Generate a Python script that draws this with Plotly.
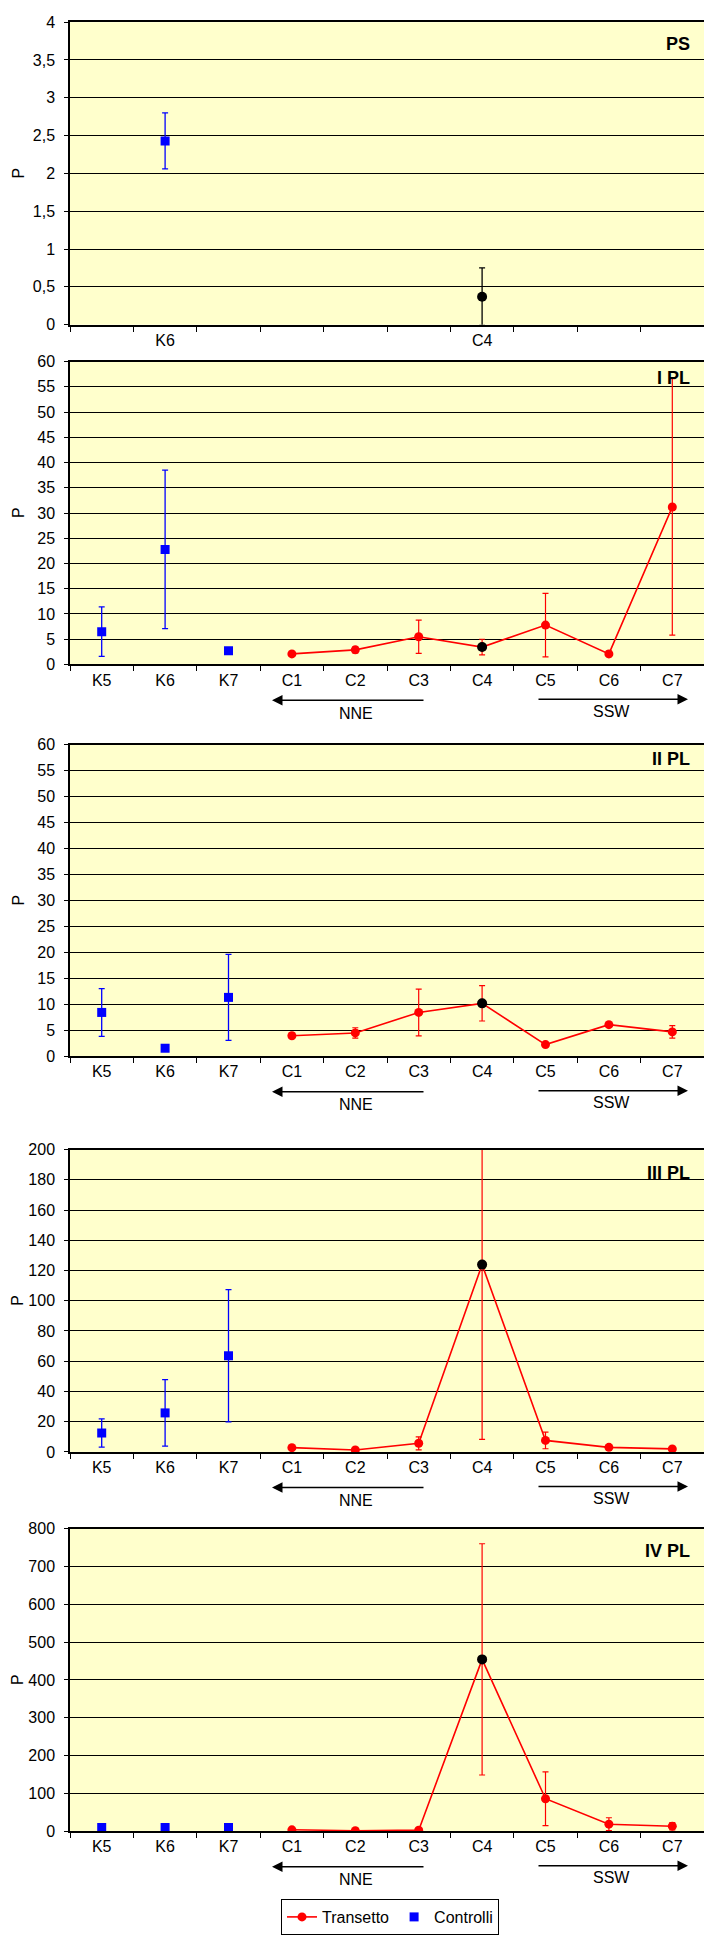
import plotly.graph_objects as go

# ---------------- data ----------------
categories = ["K5", "K6", "K7", "C1", "C2", "C3", "C4", "C5", "C6", "C7"]
controls = ["K5", "K6", "K7"]
transect = ["C1", "C2", "C3", "C4", "C5", "C6", "C7"]
panel_titles = ["PS", "I PL", "II PL", "III PL", "IV PL"]

# PS panel (only K6 and C4)
ps_labels = ["", "K6", "", "", "", "", "C4", "", "", ""]
ps_ctrl_x = ["K6"]
ps_ctrl_y = [2.43]
ps_ctrl_err = [0.37]
ps_c4_y = [0.37]
ps_c4_err = [0.38]

# I PL
ipl_ctrl_y = [6.5, 22.8, 2.7]
ipl_ctrl_err = [4.9, 15.7, 0.0]
ipl_tr_y = [2.1, 2.9, 5.5, 3.45, 7.8, 2.1, 31.2]
ipl_tr_err = [0.3, 0.6, 3.3, 1.55, 6.3, 0.55, 25.4]

# II PL
iipl_ctrl_y = [8.4, 1.5, 11.3]
iipl_ctrl_err = [4.6, 0.0, 8.3]
iipl_tr_y = [3.9, 4.45, 8.4, 10.15, 2.2, 6.05, 4.65]
iipl_tr_err = [0.5, 1.0, 4.5, 3.4, 0.3, 0.4, 1.2]

# III PL
iiipl_ctrl_y = [12.5, 25.8, 63.6]
iiipl_ctrl_err = [9.3, 22.0, 43.7]
iiipl_tr_y = [2.8, 1.3, 5.7, 123.9, 7.6, 3.0, 2.0]
iiipl_tr_err = [0.5, 0.3, 4.3, 115.6, 5.5, 0.5, 0.5]

# IV PL
ivpl_ctrl_y = [9.6, 9.6, 9.6]
ivpl_ctrl_err = [0.0, 0.0, 0.0]
ivpl_tr_y = [3.5, 1.0, 2.6, 454.5, 85.7, 18.4, 13.1]
ivpl_tr_err = [1.0, 0.5, 1.0, 306.0, 71.0, 17.0, 9.6]

y_max = [4, 60, 60, 200, 800]
y_step = [0.5, 5, 5, 20, 100]

# ---------------- layout geometry ----------------
W, H = 704, 1935
tops = [14.3, 356.7, 743.3, 1151.7, 1534.3]
bottoms = [319.5, 662.3, 1057.3, 1456.7, 1839.3]
title_y = [36, 373, 758, 1175, 1557]
x_left = 70


def py(v):
    return 1 - v / H


def px(v):
    return v / W


FONT = "Liberation Sans, Arial, sans-serif"
FS = 16
RED = "#FF0000"
BLUE = "#0000FF"

fig = go.Figure()

panels = [
    None,
    (ipl_ctrl_y, ipl_ctrl_err, ipl_tr_y, ipl_tr_err),
    (iipl_ctrl_y, iipl_ctrl_err, iipl_tr_y, iipl_tr_err),
    (iiipl_ctrl_y, iiipl_ctrl_err, iiipl_tr_y, iiipl_tr_err),
    (ivpl_ctrl_y, ivpl_ctrl_err, ivpl_tr_y, ivpl_tr_err),
]

for i in range(5):
    xa = "x" if i == 0 else f"x{i+1}"
    ya = "y" if i == 0 else f"y{i+1}"
    if i == 0:
        fig.add_trace(go.Scatter(
            x=ps_ctrl_x, y=ps_ctrl_y, mode="markers", name="Controlli",
            marker=dict(symbol="square", size=9, color=BLUE),
            error_y=dict(type="data", array=ps_ctrl_err, color=BLUE, thickness=1.3, width=3),
            showlegend=False, xaxis=xa, yaxis=ya))
        fig.add_trace(go.Scatter(
            x=["C4"], y=ps_c4_y, mode="markers", name="C4",
            marker=dict(symbol="circle", size=10, color="black"),
            error_y=dict(type="data", array=ps_c4_err, color="black", thickness=1.3, width=3),
            showlegend=False, xaxis=xa, yaxis=ya))
    else:
        cy, ce, ty, te = panels[i]
        fig.add_trace(go.Scatter(
            x=transect, y=ty, mode="lines+markers", name="Transetto",
            line=dict(color=RED, width=1.6),
            marker=dict(symbol="circle", size=9, color=RED),
            error_y=dict(type="data", array=te, color=RED, thickness=1.2, width=3),
            showlegend=(i == 1), xaxis=xa, yaxis=ya))
        fig.add_trace(go.Scatter(
            x=["C4"], y=[ty[3]], mode="markers", name="C4",
            marker=dict(symbol="circle", size=10, color="black"),
            showlegend=False, xaxis=xa, yaxis=ya))
        fig.add_trace(go.Scatter(
            x=controls, y=cy, mode="markers", name="Controlli",
            marker=dict(symbol="square", size=9, color=BLUE),
            error_y=dict(type="data", array=ce, color=BLUE, thickness=1.3, width=3),
            showlegend=(i == 1), xaxis=xa, yaxis=ya))

layout = dict(
    width=W, height=H,
    margin=dict(l=0, r=0, t=0, b=0),
    paper_bgcolor="white",
    plot_bgcolor="#FFFFCC",
    separators=",.",
    font=dict(family=FONT, size=FS, color="black"),
    legend=dict(orientation="h", x=px(390), xanchor="center", y=py(1908), yanchor="top",
                bordercolor="black", borderwidth=1, bgcolor="white",
                font=dict(family=FONT, size=FS, color="black")),
    annotations=[],
)

for i in range(5):
    xk = "xaxis" if i == 0 else f"xaxis{i+1}"
    yk = "yaxis" if i == 0 else f"yaxis{i+1}"
    ya = "y" if i == 0 else f"y{i+1}"
    xa = "x" if i == 0 else f"x{i+1}"
    dom_y = [py(bottoms[i]), py(tops[i])]
    layout[xk] = dict(
        domain=[px(x_left), 1], anchor=ya, type="category",
        categoryorder="array", categoryarray=categories,
        range=[-0.5, 9.5], tickmode="array", tickvals=categories,
        ticktext=ps_labels if i == 0 else categories,
        tickson="boundaries", ticks="outside", ticklen=5, tickcolor="black",
        showline=True, linecolor="black", linewidth=2, mirror=True,
        showgrid=False, zeroline=False, fixedrange=True,
        tickfont=dict(family=FONT, size=FS, color="black"),
    )
    layout[yk] = dict(
        domain=dom_y, anchor=xa, range=[0, y_max[i]], dtick=y_step[i], tick0=0,
        ticks="outside", ticklen=4, tickcolor="black", ticklabelstandoff=6,
        showline=True, linecolor="black", linewidth=1.5,
        showgrid=True, gridcolor="black", gridwidth=1, zeroline=False,
        tickfont=dict(family=FONT, size=FS, color="black"),
    )
    # y-axis title "P"
    layout["annotations"].append(dict(
        text="P", xref="paper", yref="paper", x=px(18), y=py((tops[i] + bottoms[i]) / 2),
        xanchor="center", yanchor="middle", textangle=-90, showarrow=False,
        font=dict(family=FONT, size=FS, color="black")))
    # panel title
    layout["annotations"].append(dict(
        text=f"<b>{panel_titles[i]}</b>", xref="paper", yref="paper",
        x=px(692), y=py(title_y[i]), xanchor="right", yanchor="middle", showarrow=False,
        font=dict(family=FONT, size=18, color="black")))
    if i > 0:
        b = bottoms[i]
        # NNE arrow (pointing left)
        layout["annotations"].append(dict(
            text="", xref="paper", yref="paper", x=px(272), y=py(b + 36),
            ax=153, ay=0, axref="pixel", ayref="pixel", showarrow=True,
            arrowhead=2, arrowsize=1.4, arrowwidth=1.5, arrowcolor="black"))
        layout["annotations"].append(dict(
            text="NNE", xref="paper", yref="paper", x=px(356), y=py(b + 49),
            xanchor="center", yanchor="middle", showarrow=False,
            font=dict(family=FONT, size=FS, color="black")))
        # SSW arrow (pointing right)
        layout["annotations"].append(dict(
            text="", xref="paper", yref="paper", x=px(688), y=py(b + 35),
            ax=-151, ay=0, axref="pixel", ayref="pixel", showarrow=True,
            arrowhead=2, arrowsize=1.4, arrowwidth=1.5, arrowcolor="black"))
        layout["annotations"].append(dict(
            text="SSW", xref="paper", yref="paper", x=px(611), y=py(b + 47),
            xanchor="center", yanchor="middle", showarrow=False,
            font=dict(family=FONT, size=FS, color="black")))

fig.update_layout(**layout)
fig.write_html("out.html", config={"displayModeBar": False},
               post_script="document.body.style.margin='0px';")
